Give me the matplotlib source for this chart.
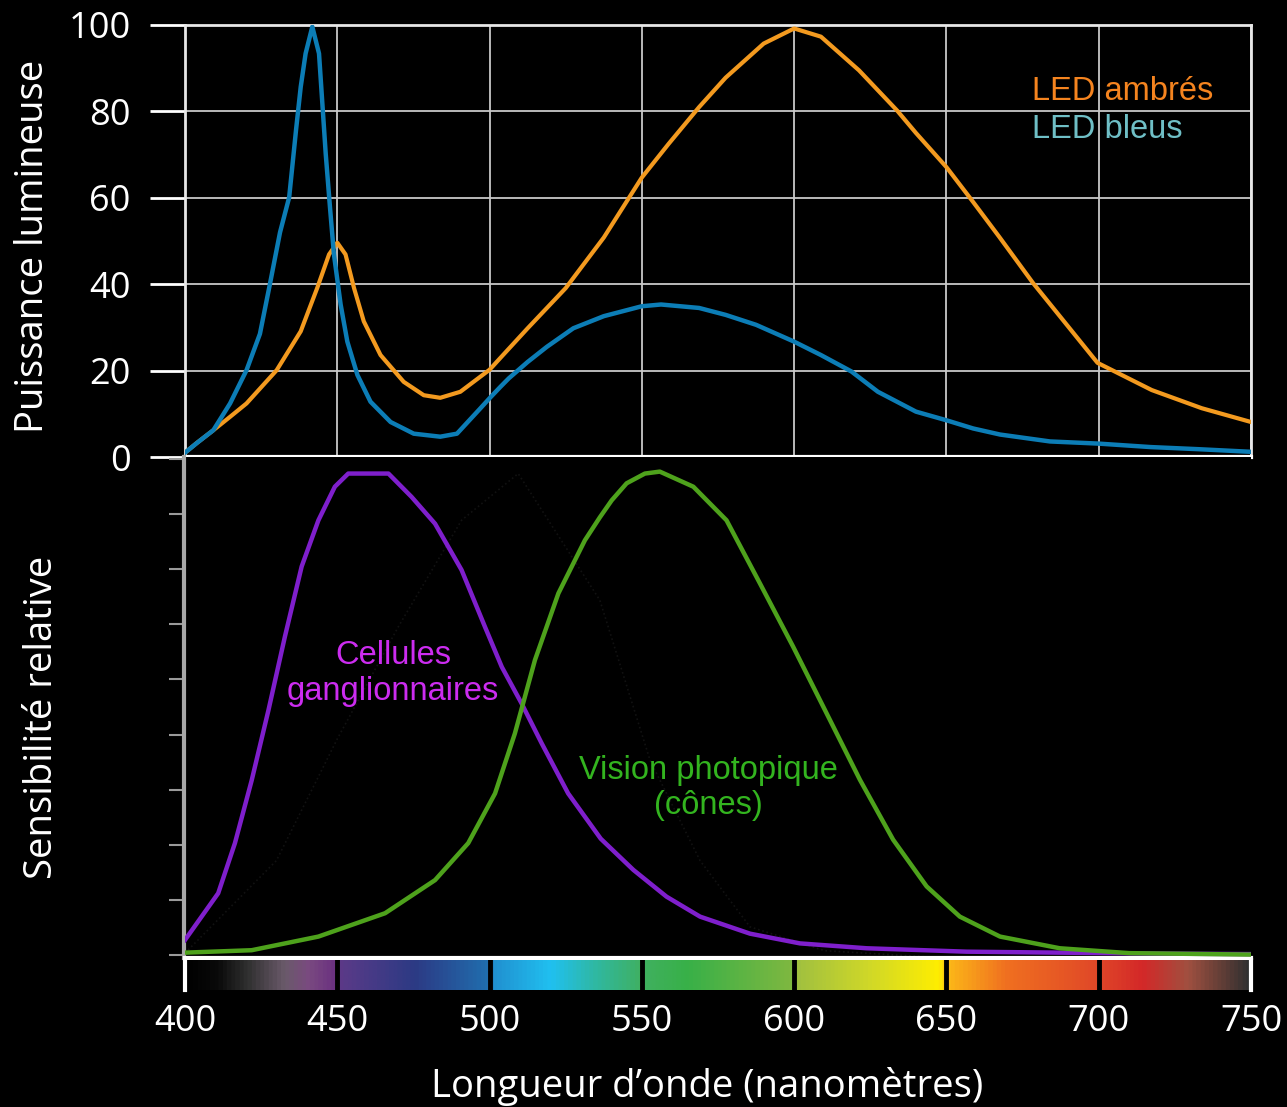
import numpy as np
import matplotlib.pyplot as plt
from matplotlib.colors import LinearSegmentedColormap

# LED spectra (top panel)
wl_blue = [400, 404, 409.3, 414.8, 420.2, 424.6, 427.9, 431.2, 434.2, 436.5, 438.0, 439.6, 441.8,
           444.0, 445.1, 446.2, 447.6, 448.9, 451.1, 453.3, 456.6, 460.9, 467.5, 475.1, 483.8,
           489.3, 496.9, 500, 503.5, 506.3, 512.5, 518.8, 527.5, 537.5, 550, 556.3, 568.8,
           577.5, 587.5, 600, 608.8, 618.8, 627.5, 640, 650, 658.8, 667.6, 684, 700, 717, 733, 750]
blue = [1.0, 3.3, 6.2, 12.4, 20.1, 28.5, 40.1, 52, 60.1, 76, 85.7, 93.4, 99.6,
        93.4, 81.8, 70.2, 57.8, 46.9, 35.3, 26.7, 19.0, 12.8, 8.1, 5.4, 4.7,
        5.4, 11.2, 13.6, 16.2, 18.2, 22.0, 25.5, 29.8, 32.6, 34.9, 35.3, 34.5,
        32.9, 30.6, 26.7, 23.6, 19.8, 15.1, 10.5, 8.5, 6.6, 5.2, 3.6, 3.1, 2.3, 1.8, 1.2]

wl_amber = [400, 403.8, 409.3, 414.8, 420.2, 430.1, 438.0, 443.4, 447.3, 450, 452.7, 455.5,
            458.7, 464.2, 471.8, 478.4, 483.8, 490.4, 500, 503.5, 512.5, 525, 537.5, 550,
            558.8, 568.8, 577.5, 590, 600, 608.8, 621.3, 633.8, 640, 650, 658.8, 667.3,
            678.4, 699.6, 717.4, 733.8, 750]
amber = [1.0, 3.2, 6.2, 9.3, 12.4, 20.1, 29.1, 39.1, 46.9, 49.6, 46.9, 39.1,
         31.4, 23.6, 17.4, 14.3, 13.7, 15.1, 20.2, 22.9, 29.8, 39.1, 50.8, 64.7,
         72.5, 81.0, 87.8, 95.7, 99.2, 97.3, 89.5, 80.2, 75.0, 67.1, 59.0, 51.0,
         40.3, 21.8, 15.5, 11.3, 8.1]

# relative sensitivity curves (bottom panel)
wl_gang = [400, 410.9, 416.4, 421.9, 427.4, 432.8, 438.3, 443.8, 449.2, 453.6, 466.8, 474.4,
           482.1, 490.8, 498.5, 504.0, 510.5, 517.1, 525.8, 536.5, 547.2, 558.1, 569.1,
           585.5, 601.9, 623.8, 656.6, 687.2, 720, 750]
gang = [0.037, 0.133, 0.236, 0.365, 0.509, 0.660, 0.804, 0.899, 0.968, 0.995, 0.995, 0.947,
        0.892, 0.797, 0.680, 0.598, 0.523, 0.441, 0.338, 0.245, 0.181, 0.126, 0.085,
        0.050, 0.030, 0.020, 0.013, 0.011, 0.009, 0.008]

wl_phot = [400, 421.9, 443.8, 465.7, 482.1, 493.0, 501.8, 508.3, 514.9, 522.6, 531.3, 536.2,
           540.1, 545.0, 551.0, 555.9, 566.9, 577.8, 588.8, 599.7, 610.7, 621.6, 632.5,
           643.5, 654.4, 667.6, 687.2, 710, 750]
phot = [0.011, 0.016, 0.044, 0.092, 0.160, 0.236, 0.338, 0.461, 0.612, 0.749, 0.858, 0.905,
        0.940, 0.975, 0.995, 0.999, 0.968, 0.899, 0.769, 0.639, 0.502, 0.366, 0.243,
        0.147, 0.085, 0.044, 0.020, 0.010, 0.007]

# faint scotopic curve (rods), barely visible
wl_scot = [400, 430, 450, 470, 490.8, 509.4, 536.2, 552.7, 569.1, 585.5, 610, 650, 750]
scot = [0.01, 0.2, 0.45, 0.68, 0.899, 0.995, 0.735, 0.406, 0.2, 0.064, 0.015, 0.0, 0.0]

x_ticks = [400, 450, 500, 550, 600, 650, 700, 750]
y_ticks = [0, 20, 40, 60, 80, 100]

W, H = 1287, 1107
fig = plt.figure(figsize=(W / 100, H / 100), dpi=100, facecolor="black")


def px_axes(x0, y0, x1, y1):
    return fig.add_axes([x0 / W, 1 - y1 / H, (x1 - x0) / W, (y1 - y0) / H])


tick_font = "Open Sans"
note_font = "Liberation Sans"

# ---- top panel
ax = px_axes(185, 25, 1251, 457)
ax.set_facecolor("black")
ax.plot(wl_amber, amber, color="#f39a1f", lw=3, solid_joinstyle="round", zorder=3)
ax.plot(wl_blue, blue, color="#0c7db6", lw=3.2, solid_joinstyle="round", zorder=4)
ax.set_xlim(400, 750)
ax.set_ylim(0, 100)
ax.set_xticks(x_ticks)
ax.set_yticks(y_ticks)
ax.grid(True, color="#c8c8c8", lw=1.3)
ax.tick_params(axis="x", length=0, labelbottom=False)
ax.tick_params(axis="y", length=25, width=2, color="white", pad=14,
               labelcolor="white", labelsize=26)
for lab in ax.get_yticklabels():
    lab.set_fontfamily(tick_font)
for s in ["left", "right", "top"]:
    ax.spines[s].set_color("#e8e8e8")
    ax.spines[s].set_linewidth(2)
ax.spines["bottom"].set_color("white")
ax.spines["bottom"].set_linewidth(3)
ax.text(678.1, 84.7, "LED ambrés", color="#f5841f", fontsize=23.5, family=note_font,
        ha="left", va="center")
ax.text(678.1, 75.7, "LED bleus", color="#6fbfc6", fontsize=23.5, family=note_font,
        ha="left", va="center")

# ---- bottom panel
bx = px_axes(185, 457, 1251, 958)
bx.set_facecolor("black")
bx.plot(wl_scot, scot, color="#111111", lw=1.2, ls=":", zorder=2)
bx.plot(wl_gang, gang, color="#7f1fcc", lw=3.2, solid_joinstyle="round", zorder=3)
bx.plot(wl_phot, phot, color="#4ea21c", lw=3.2, solid_joinstyle="round", zorder=4)
bx.set_xlim(400, 750)
bx.set_ylim(0, 1.029)
bx.set_xticks([])
bx.set_yticks(np.linspace(0.006, 1.025, 10))
bx.tick_params(axis="y", length=11, width=1.5, color="#9a9a9a", labelleft=False)
bx.spines["left"].set_color("#a8a8a8")
bx.spines["left"].set_linewidth(3)
bx.spines["left"].set_position(("outward", 1))
bx.spines["bottom"].set_color("white")
bx.spines["bottom"].set_linewidth(3)
bx.spines["top"].set_visible(False)
bx.spines["right"].set_visible(False)
bx.text(468.3, 0.585, "Cellules\nganglionnaires", color="#cc2cf0", fontsize=23.5,
        family=note_font, ha="center", va="center", linespacing=1.2)
bx.text(571.7, 0.349, "Vision photopique\n(cônes)", color="#33b41f", fontsize=23.5,
        family=note_font, ha="center", va="center", linespacing=1.2)

# ---- spectrum bar
cx = px_axes(185, 960, 1251, 990)
stops = [(400, "#000000"), (410, "#0a0a0a"), (420, "#303030"), (432, "#6a5a6a"),
         (440, "#7a4a80"), (449, "#6a3080"), (451, "#5a3a88"), (475, "#2c3a84"),
         (500, "#2070b0"), (501, "#2090d0"), (520, "#20c0f0"), (535, "#30b8a0"),
         (550, "#40b060"), (565, "#38b048"), (600, "#80b840"), (601, "#a0c040"),
         (625, "#d0d828"), (648, "#ffee00"), (651, "#fcb818"), (670, "#f07020"),
         (700, "#e04828"), (715, "#d42828"), (730, "#a05040"), (750, "#303030")]
cmap = LinearSegmentedColormap.from_list(
    "spec", [((w - 400) / 350, c) for w, c in stops])
grad = np.linspace(400, 750, 1400).reshape(1, -1)
cx.imshow(grad, cmap=cmap, aspect="auto", extent=[400, 750, 0, 1], vmin=400, vmax=750)
for w in x_ticks[1:-1]:
    cx.axvline(w, color="black", lw=3.5)
cx.set_xlim(400, 750)
cx.set_ylim(0, 1)
cx.set_yticks([])
cx.set_xticks(x_ticks)
cx.tick_params(axis="x", length=0, pad=10, labelcolor="white", labelsize=26)
for lab in cx.get_xticklabels():
    lab.set_fontfamily(tick_font)
for s in ["top", "bottom"]:
    cx.spines[s].set_visible(False)
for s in ["left", "right"]:
    cx.spines[s].set_color("white")
    cx.spines[s].set_linewidth(3)

# axis titles
fig.text(33 / W, 1 - 246 / H, "Puissance lumineuse", rotation=90, color="white",
         fontsize=27.5, family=tick_font, ha="center", va="center")
fig.text(42 / W, 1 - 717 / H, "Sensibilité relative", rotation=90, color="white",
         fontsize=27.5, family=tick_font, ha="center", va="center")
fig.text(707 / W, 1 - 1086 / H, "Longueur d’onde (nanomètres)", color="white",
         fontsize=27.5, family=tick_font, ha="center", va="center")

fig.savefig("out.png", dpi=100, facecolor="black")
